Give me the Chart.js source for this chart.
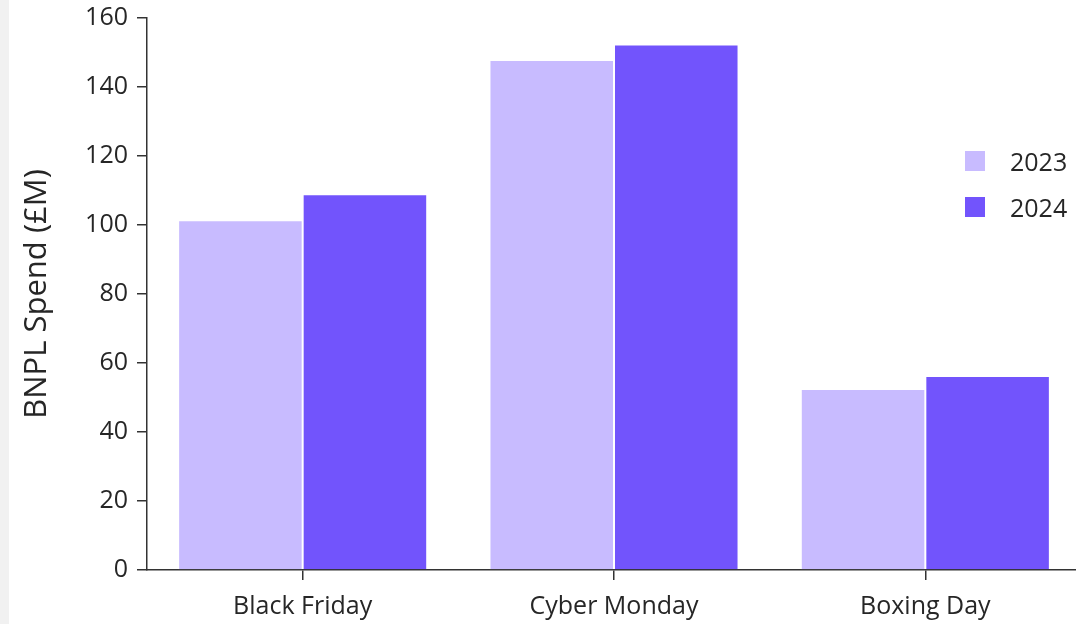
<!DOCTYPE html>
<html>
<head>
<meta charset="utf-8">
<script src="https://cdn.jsdelivr.net/npm/chart.js@4/dist/chart.umd.min.js"></script>
<style>
  html, body {
    margin: 0;
    padding: 0;
    width: 1076px;
    height: 624px;
    overflow: hidden;
    background: linear-gradient(to right, #f1f1f1 9px, #ffffff 9px);
    font-family: "Open Sans", sans-serif;
  }
  .chart-wrap {
    position: absolute;
    left: 0;
    top: 0;
    width: 1081px;
    height: 624px;
  }
  .legend {
    position: absolute;
    left: 965px;
    top: 147px;
    color: #262626;
    font-size: 25px;
  }
  .legend-item {
    display: flex;
    align-items: center;
    height: 28px;
    margin-bottom: 18px;
  }
  .legend-box {
    width: 20px;
    height: 20px;
    margin-right: 25px;
  }
</style>
</head>
<body>
<div class="chart-wrap">
  <canvas id="bnplChart"></canvas>
</div>
<div class="legend" id="legend"></div>

<script>
  const categories = ["Black Friday", "Cyber Monday", "Boxing Day"];
  const spend2023 = [101.4, 147.8, 52.5];
  const spend2024 = [108.9, 152.3, 56.2];
  const yTicks = [0, 20, 40, 60, 80, 100, 120, 140, 160];

  const textColor = "#262626";
  const axisColor = "#333333";
  const fontFamily = "'Open Sans', sans-serif";

  const datasets = [
    { label: "2023", data: spend2023, backgroundColor: "#c8bbff" },
    { label: "2024", data: spend2024, backgroundColor: "#7254fc" },
  ].map((ds) => ({
    ...ds,
    borderColor: "rgba(255, 255, 255, 0.55)",
    borderWidth: 1,
    categoryPercentage: 0.8,
    barPercentage: 1.0,
  }));

  const ctx = document.getElementById("bnplChart").getContext("2d");

  new Chart(ctx, {
    type: "bar",
    data: { labels: categories, datasets },
    options: {
      responsive: true,
      maintainAspectRatio: false,
      animation: false,
      layout: { padding: { top: 18, right: 0, bottom: 0, left: 0 } },
      plugins: {
        legend: { display: false },
        tooltip: { enabled: false },
      },
      scales: {
        x: {
          grid: {
            offset: false,
            drawOnChartArea: false,
            drawTicks: true,
            tickLength: 10,
            tickColor: axisColor,
            lineWidth: 1.5,
          },
          border: { display: true, color: axisColor, width: 1.5 },
          ticks: {
            color: textColor,
            padding: 12,
            font: { family: fontFamily, size: 25 },
          },
          afterFit: (scale) => {
            scale.height = 54;
          },
        },
        y: {
          min: 0,
          max: 160,
          afterBuildTicks: (scale) => {
            scale.ticks = yTicks.map((v) => ({ value: v }));
          },
          grid: {
            drawOnChartArea: false,
            drawTicks: true,
            tickLength: 10,
            tickColor: axisColor,
            lineWidth: 1.5,
          },
          border: { display: true, color: axisColor, width: 1.5 },
          ticks: {
            color: textColor,
            padding: 9,
            font: { family: fontFamily, size: 25 },
          },
          title: {
            display: true,
            text: "BNPL Spend (£M)",
            color: textColor,
            font: { family: fontFamily, size: 31 },
            padding: { top: 19, bottom: 0 },
          },
          afterFit: (scale) => {
            scale.width = 147;
            // let the top tick label hang into the layout padding
            scale.paddingTop = 0;
            scale.paddingBottom = 0;
          },
        },
      },
    },
  });

  // legend built from the dataset list
  const legendEl = document.getElementById("legend");
  datasets.forEach((ds) => {
    const item = document.createElement("div");
    item.className = "legend-item";
    const box = document.createElement("span");
    box.className = "legend-box";
    box.style.background = ds.backgroundColor;
    const label = document.createElement("span");
    label.textContent = ds.label;
    item.appendChild(box);
    item.appendChild(label);
    legendEl.appendChild(item);
  });
</script>
</body>
</html>
